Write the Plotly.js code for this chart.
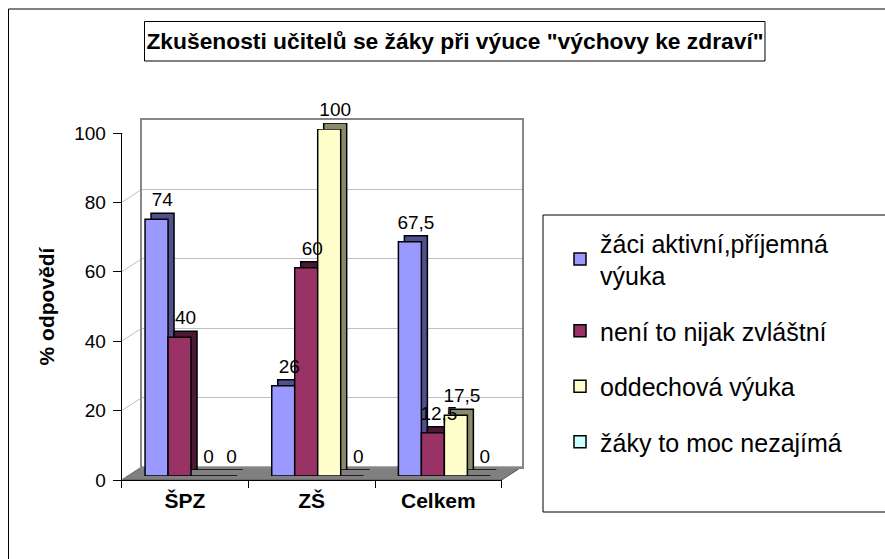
<!DOCTYPE html>
<html>
<head>
<meta charset="utf-8">
<script src="https://cdn.plot.ly/plotly-3.0.1.min.js"></script>
<style>html,body{margin:0;padding:0;background:#fff;}#chart{width:885px;height:559px;}</style>
</head>
<body>
<div id="chart"></div>
<script>
// ---- data ----
const categories = ['ŠPZ', 'ZŠ', 'Celkem'];
const seriesNames = ['žáci aktivní,příjemná<br>výuka', 'není to nijak zvláštní', 'oddechová výuka', 'žáky to moc nezajímá'];
const aktivniPrijemna = [74, 26, 67.5];
const nijakZvlastni = [40, 60, 12.5];
const oddechova = [0, 100, 17.5];
const nezajima = [0, 0, 0];
const yTickValues = [0, 20, 40, 60, 80, 100];
const chartTitle = 'Zkušenosti učitelů se žáky při výuce "výchovy ke zdraví"';
const yTitle = '% odpovědí';

// ---- styles ----
const W = 885, H = 559;
const faceColors = ['#9999FF', '#993366', '#FFFFCC', '#CCFFFF'];
const sideColors = ['#50508E', '#4A1A33', '#8A8A6C', '#6E9E9E'];
const FONT = 'Liberation Sans, Arial, sans-serif';
const px = v => v / W;
const py = v => 1 - v / H;

// front plane (axes), back wall, bar front faces, bar depth
const front = {x0: 121.7, x1: 501.7, y0: 480, y1: 133};
const back = {dx: 20, dy: -13};
const barFace = {dx: 6, dy: -4};
const barDepth = {dx: 12, dy: -10};
function dom(o) {
  return {
    x: [px(front.x0 + o.dx), px(front.x1 + o.dx)],
    y: [py(front.y0 + o.dy), py(front.y1 + o.dy)]
  };
}
const dBack = dom(back), dFace = dom(barFace), dDepth = dom(barDepth);

const series = [aktivniPrijemna, nijakZvlastni, oddechova, nezajima];
const traces = [];
// depth (side/top) bars drawn behind the faces
series.forEach((vals, i) => {
  traces.push({
    type: 'bar', x: categories, y: vals, xaxis: 'x3', yaxis: 'y3',
    marker: {color: sideColors[i], line: {color: '#000', width: 1.5}},
    showlegend: false, hoverinfo: 'skip'
  });
});
// front faces
series.forEach((vals, i) => {
  traces.push({
    type: 'bar', x: categories, y: vals, name: seriesNames[i], xaxis: 'x4', yaxis: 'y4',
    marker: {color: faceColors[i], line: {color: '#000', width: 1.5}},
    legendgroup: 'g' + i, cliponaxis: false
  });
});
// data labels on top of everything (invisible bars, same geometry as depth)
series.forEach((vals, i) => {
  traces.push({
    type: 'bar', x: categories, y: vals, xaxis: 'x5', yaxis: 'y5',
    marker: {color: 'rgba(0,0,0,0)', line: {width: 0}},
    texttemplate: '%{y}', textposition: 'outside', cliponaxis: false,
    constraintext: 'none',
    textfont: {family: FONT, size: 19, color: '#000'},
    showlegend: false, hoverinfo: 'skip'
  });
});
// traces to create front axes and back wall
traces.push({type: 'scatter', x: categories, y: [null, null, null], xaxis: 'x', yaxis: 'y', showlegend: false, hoverinfo: 'skip'});
traces.push({type: 'scatter', x: categories, y: [null, null, null], xaxis: 'x2', yaxis: 'y2', showlegend: false, hoverinfo: 'skip'});

const hiddenAx = {range: [-0.5, 2.5], type: 'category', showgrid: false, zeroline: false, showticklabels: false, ticks: '', showline: false, fixedrange: true};
const hiddenAy = {range: [0, 100], showgrid: false, zeroline: false, showticklabels: false, ticks: '', showline: false, fixedrange: true};

const shapes = [];
// outer chart border
shapes.push({type: 'rect', xref: 'paper', yref: 'paper', x0: px(8.5), x1: px(W + 10), y0: py(9), y1: py(H + 10), line: {color: '#000', width: 1}, layer: 'below'});
// title box
shapes.push({type: 'rect', xref: 'paper', yref: 'paper', x0: px(144.5), x1: px(765), y0: py(21.5), y1: py(61), line: {color: '#000', width: 1}});
// legend box
shapes.push({type: 'rect', xref: 'paper', yref: 'paper', x0: px(543), x1: px(W + 10), y0: py(215), y1: py(512), line: {color: '#000', width: 1}});
// floor
shapes.push({type: 'path', xref: 'paper', yref: 'paper', layer: 'below',
  path: `M${px(front.x0)},${py(front.y0)} L${px(front.x1)},${py(front.y0)} L${px(front.x1 + back.dx)},${py(front.y0 + back.dy)} L${px(front.x0 + back.dx)},${py(front.y0 + back.dy)} Z`,
  fillcolor: '#808080', line: {color: '#555', width: 1}});
// left side wall lines, from front axis ticks to the back wall
yTickValues.forEach(v => {
  shapes.push({type: 'line', xref: 'paper', yref: 'y', ysizemode: 'pixel', yanchor: v,
    x0: px(front.x0), x1: px(front.x0 + back.dx), y0: 0, y1: -back.dy,
    line: {color: v === 100 || v === 0 ? '#808080' : '#c0c0c0', width: v === 100 ? 2 : 1}, layer: 'below'});
});

const layout = {
  width: W, height: H,
  margin: {l: 0, r: 0, t: 0, b: 0, pad: 0},
  paper_bgcolor: '#fff', plot_bgcolor: 'rgba(0,0,0,0)',
  separators: ', ',
  font: {family: FONT, color: '#000'},
  barmode: 'group', bargap: 0.274, bargroupgap: 0,
  title: {text: '<b>' + chartTitle + '</b>', font: {family: FONT, size: 22.8, color: '#000'},
    xref: 'paper', yref: 'paper', x: px(455), xanchor: 'center', y: py(41.5), yanchor: 'middle'},
  xaxis: {domain: [px(front.x0), px(front.x1)], range: [-0.5, 2.5], type: 'category',
    showgrid: false, zeroline: false, showline: true, linecolor: '#000', linewidth: 1,
    ticks: 'outside', tickson: 'boundaries', ticklen: 7, tickcolor: '#000',
    tickfont: {family: FONT, size: 21, color: '#000', weight: 'bold'}, ticklabelstandoff: 2, fixedrange: true, anchor: 'y'},
  yaxis: {domain: [py(front.y0), py(front.y1)], range: [0, 100], tickvals: yTickValues,
    showgrid: false, zeroline: false, showline: true, linecolor: '#000', linewidth: 1,
    ticks: 'outside', ticklen: 8, tickcolor: '#000', ticklabelstandoff: 3,
    tickfont: {family: FONT, size: 19, color: '#000'},
    title: {text: '<b>' + yTitle + '</b>', font: {family: FONT, size: 21, color: '#000'}, standoff: 13},
    fixedrange: true, anchor: 'x'},
  xaxis2: Object.assign({}, hiddenAx, {domain: dBack.x, anchor: 'y2', showline: true, mirror: true, linecolor: '#868686', linewidth: 2}),
  yaxis2: Object.assign({}, hiddenAy, {domain: dBack.y, anchor: 'x2', showgrid: true, gridcolor: '#c0c0c0', gridwidth: 1, tickvals: yTickValues, showline: true, mirror: true, linecolor: '#868686', linewidth: 2}),
  xaxis3: Object.assign({}, hiddenAx, {domain: dDepth.x, anchor: 'y3'}),
  yaxis3: Object.assign({}, hiddenAy, {domain: dDepth.y, anchor: 'x3'}),
  xaxis4: Object.assign({}, hiddenAx, {domain: dFace.x, anchor: 'y4'}),
  yaxis4: Object.assign({}, hiddenAy, {domain: dFace.y, anchor: 'x4'}),
  xaxis5: Object.assign({}, hiddenAx, {domain: dDepth.x, anchor: 'y5'}),
  yaxis5: Object.assign({}, hiddenAy, {domain: dDepth.y, anchor: 'x5'}),
  showlegend: true,
  legend: {x: px(560), xanchor: 'left', y: py(220), yanchor: 'top', bgcolor: 'rgba(0,0,0,0)', borderwidth: 0,
    font: {family: FONT, size: 25, color: '#000'}, tracegroupgap: 20, traceorder: 'grouped', itemclick: false, itemdoubleclick: false},
  shapes: shapes
};

Plotly.newPlot('chart', traces, layout, {displayModeBar: false, staticPlot: true});
</script>
</body>
</html>
